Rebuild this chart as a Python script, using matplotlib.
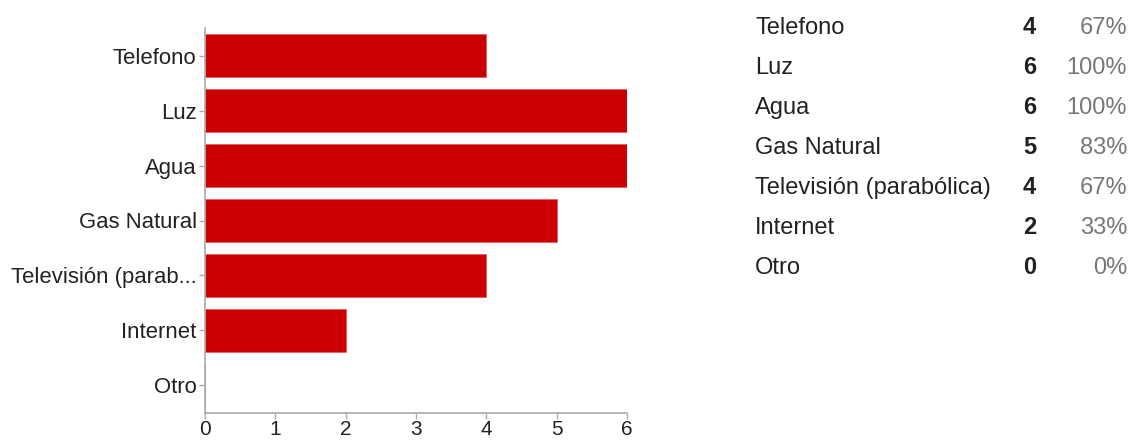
import matplotlib.pyplot as plt

plt.rcParams['font.family'] = ['Liberation Sans', 'DejaVu Sans']

# respuestas por servicio
servicios = ["Telefono", "Luz", "Agua", "Gas Natural",
             "Televisión (parabólica)", "Internet", "Otro"]
conteos = [4, 6, 6, 5, 4, 2, 0]
porcentajes = [67, 100, 100, 83, 67, 33, 0]
xticks = [0, 1, 2, 3, 4, 5, 6]

ROJO = "#cc0000"
GRIS = "#aaaaaa"
TEXTO = "#222222"


def recortar(s, n=17):
    return s if len(s) <= n else s[:n] + "..."


fig = plt.figure(figsize=(11.31, 4.41), dpi=100)

# -----------------------------
# barras horizontales
# -----------------------------
ax = fig.add_axes([0.1813, 0.0635, 0.3731, 0.873])
pos = list(range(len(servicios)))
ax.barh(pos, conteos, height=0.78, color=ROJO, edgecolor="#e06060", linewidth=0.6)
ax.set_ylim(len(servicios) - 0.5, -0.5)
ax.set_xlim(0, 6)
ax.set_xticks(xticks)
ax.set_yticks(pos)
ax.set_yticklabels([recortar(s) for s in servicios])
ax.tick_params(axis="both", colors=GRIS, labelcolor=TEXTO, labelsize=15.9,
               length=4, width=1)
ax.tick_params(axis="y", pad=2)
ax.tick_params(axis="x", pad=1, labelsize=15)
for lado in ("top", "right"):
    ax.spines[lado].set_visible(False)
for lado in ("left", "bottom"):
    ax.spines[lado].set_color(GRIS)
    ax.spines[lado].set_linewidth(1.2)

# -----------------------------
# tabla de resumen
# -----------------------------
tab = fig.add_axes([0.0, 0.0, 1.0, 1.0])
tab.set_xlim(0, 1131)
tab.set_ylim(441, 0)
tab.axis("off")
for i, (s, c, p) in enumerate(zip(servicios, conteos, porcentajes)):
    y = 28 + 40 * i
    tab.text(755, y, s, fontsize=17, color=TEXTO, va="center", ha="left")
    tab.text(1036, y, str(c), fontsize=17, color=TEXTO, weight="bold",
             va="center", ha="right")
    tab.text(1127, y, f"{p}%", fontsize=17, color="#777777",
             va="center", ha="right")

fig.savefig("out.png", dpi=100, facecolor="white")
